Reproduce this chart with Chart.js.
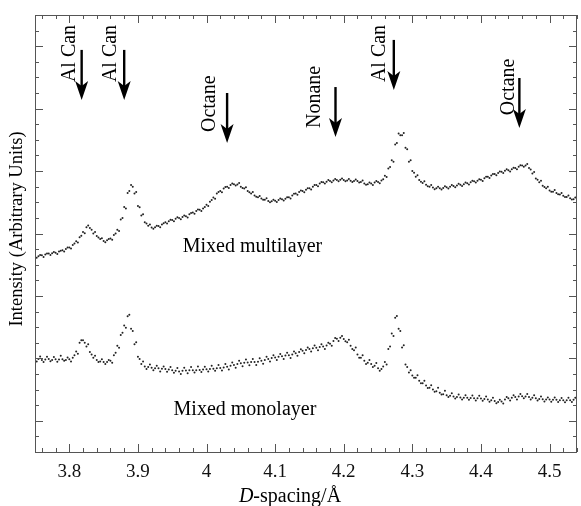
<!DOCTYPE html>
<html>
<head>
<meta charset="utf-8">
<script src="https://cdn.jsdelivr.net/npm/chart.js"></script>
<style>
  html, body { margin: 0; padding: 0; background: #fff; }
  canvas { display: block; }
</style>
</head>
<body>
<canvas id="xrd" width="581" height="506" style="width:581px;height:506px"></canvas>
<script>
// D-spacing grid of the scans (Å)
const dStart = 3.75;
const dStep = 0.005;

// mixed multilayer, two passes
const multiA = [
  6.27,6.27,6.30,6.33,6.36,6.37,6.38,6.42,6.46,6.50,
  6.55,6.63,6.75,6.88,7.05,7.20,7.18,7.00,6.92,6.82,
  6.76,6.78,6.84,6.95,7.12,7.45,7.85,8.30,8.55,8.28,
  7.88,7.58,7.36,7.25,7.19,7.20,7.24,7.29,7.36,7.39,
  7.43,7.47,7.50,7.53,7.55,7.62,7.67,7.72,7.76,7.80,
  7.92,8.02,8.15,8.28,8.36,8.44,8.50,8.55,8.58,8.57,
  8.50,8.44,8.36,8.28,8.22,8.16,8.12,8.08,8.04,8.03,
  8.05,8.07,8.10,8.11,8.16,8.22,8.28,8.33,8.36,8.40,
  8.45,8.50,8.55,8.60,8.64,8.66,8.68,8.70,8.71,8.72,
  8.71,8.70,8.69,8.68,8.68,8.65,8.60,8.58,8.60,8.63,
  8.65,8.70,8.85,9.08,9.35,9.85,10.20,10.15,9.75,9.30,
  9.00,8.82,8.71,8.62,8.56,8.50,8.47,8.45,8.45,8.46,
  8.48,8.50,8.52,8.54,8.56,8.58,8.61,8.64,8.67,8.69,
  8.72,8.77,8.82,8.86,8.91,8.94,8.98,9.01,9.03,9.06,
  9.10,9.14,9.18,9.18,9.10,8.92,8.76,8.64,8.53,8.45,
  8.38,8.34,8.30,8.25,8.21,8.17,8.13,8.10,8.07
];
const multiB = [
  6.22,6.31,6.25,6.36,6.31,6.41,6.34,6.45,6.42,6.55,
  6.52,6.68,6.71,6.93,7.01,7.26,7.12,7.05,6.87,6.85,
  6.72,6.82,6.80,7.00,7.08,7.50,7.80,8.36,8.50,8.33,
  7.84,7.62,7.32,7.29,7.15,7.25,7.20,7.33,7.32,7.44,
  7.39,7.52,7.46,7.58,7.51,7.66,7.63,7.77,7.72,7.85,
  7.88,8.07,8.11,8.33,8.32,8.49,8.46,8.60,8.54,8.62,
  8.46,8.48,8.32,8.33,8.18,8.20,8.08,8.13,8.00,8.08,
  8.01,8.12,8.06,8.16,8.12,8.27,8.24,8.38,8.32,8.45,
  8.41,8.55,8.51,8.65,8.60,8.71,8.64,8.75,8.67,8.76,
  8.67,8.75,8.65,8.73,8.63,8.70,8.56,8.63,8.55,8.68,
  8.61,8.74,8.81,9.13,9.30,9.90,10.15,10.22,9.70,9.35,
  8.95,8.87,8.66,8.67,8.51,8.55,8.42,8.50,8.41,8.51,
  8.44,8.55,8.48,8.59,8.52,8.63,8.57,8.69,8.63,8.74,
  8.68,8.82,8.78,8.91,8.87,8.99,8.94,9.06,8.99,9.11,
  9.06,9.19,9.14,9.23,9.05,8.97,8.72,8.69,8.49,8.50,
  8.34,8.39,8.26,8.30,8.17,8.22,8.09,8.15,8.03
];

// mixed monolayer, two passes
const monoA = [
  2.97,2.98,2.95,2.96,2.98,2.95,2.97,2.96,2.97,2.95,
  2.97,3.02,3.22,3.50,3.58,3.38,3.20,3.02,2.95,2.90,
  2.88,2.88,2.92,3.10,3.40,3.75,4.05,4.35,3.95,3.45,
  3.05,2.82,2.74,2.72,2.70,2.68,2.68,2.67,2.66,2.64,
  2.62,2.60,2.58,2.60,2.61,2.62,2.62,2.62,2.63,2.64,
  2.65,2.66,2.67,2.68,2.69,2.71,2.73,2.76,2.79,2.82,
  2.84,2.86,2.87,2.88,2.88,2.89,2.92,2.95,2.98,3.01,
  3.03,3.05,3.07,3.09,3.10,3.12,3.16,3.20,3.24,3.27,
  3.30,3.32,3.34,3.36,3.38,3.41,3.47,3.56,3.63,3.66,
  3.62,3.52,3.40,3.26,3.12,3.02,2.92,2.86,2.82,2.76,
  2.68,2.66,2.88,3.30,3.80,4.30,3.95,3.35,2.80,2.55,
  2.45,2.38,2.28,2.20,2.13,2.06,2.00,1.95,1.90,1.85,
  1.82,1.80,1.78,1.76,1.75,1.74,1.74,1.73,1.72,1.72,
  1.71,1.70,1.68,1.66,1.63,1.60,1.62,1.68,1.72,1.74,
  1.76,1.78,1.79,1.78,1.76,1.74,1.72,1.70,1.69,1.68,
  1.68,1.67,1.67,1.66,1.66,1.66,1.66,1.67,1.66
];
const monoB = [
  2.90,3.06,2.88,3.05,2.91,3.04,2.89,3.08,2.92,3.03,
  2.90,3.10,3.15,3.58,3.50,3.45,3.12,3.08,2.88,2.97,
  2.82,2.95,2.86,3.18,3.34,3.82,3.98,4.40,3.88,3.52,
  2.98,2.90,2.66,2.80,2.62,2.76,2.58,2.74,2.57,2.72,
  2.54,2.69,2.50,2.70,2.52,2.72,2.55,2.74,2.56,2.73,
  2.58,2.76,2.60,2.79,2.61,2.82,2.64,2.87,2.70,2.92,
  2.75,2.96,2.78,2.98,2.79,3.00,2.83,3.05,2.90,3.10,
  2.95,3.14,2.98,3.18,3.01,3.22,3.08,3.29,3.16,3.35,
  3.22,3.41,3.26,3.45,3.30,3.50,3.40,3.65,3.56,3.72,
  3.55,3.60,3.30,3.35,3.02,3.10,2.82,2.95,2.72,2.85,
  2.60,2.74,2.80,3.38,3.72,4.36,3.88,3.42,2.72,2.62,
  2.38,2.46,2.20,2.28,2.05,2.14,1.93,2.06,1.84,1.96,
  1.76,1.88,1.71,1.84,1.68,1.82,1.67,1.81,1.65,1.80,
  1.64,1.78,1.61,1.74,1.56,1.67,1.55,1.76,1.65,1.82,
  1.68,1.86,1.72,1.86,1.68,1.82,1.65,1.78,1.62,1.75,
  1.61,1.75,1.60,1.73,1.59,1.74,1.60,1.74,1.59
];

// ticks
const xMajor = [3.8, 3.9, 4.0, 4.1, 4.2, 4.3, 4.4, 4.5];
const xMinor = [3.76,3.78,3.82,3.84,3.86,3.88,3.92,3.94,3.96,3.98,4.02,4.04,4.06,4.08,
  4.12,4.14,4.16,4.18,4.22,4.24,4.26,4.28,4.32,4.34,4.36,4.38,4.42,4.44,4.46,4.48,4.52,4.54];
const yMajor = [1, 3, 5, 7, 9, 11, 13];
const yMinor = [0.5,1.5,2,2.5,3.5,4,4.5,5.5,6,6.5,7.5,8,8.5,9.5,10,10.5,11.5,12,12.5,13.5];

// arrow annotations: label, D the arrow points at, arrow tip (intensity)
const noteLabels = ['Al Can', 'Al Can', 'Octane', 'Nonane', 'Al Can', 'Octane'];
const noteD = [3.818, 3.880, 4.030, 4.188, 4.273, 4.456];
const noteTip = [11.28, 11.28, 9.90, 10.09, 11.60, 10.38];
// where the rotated text sits (D of text column, intensity where the text starts)
const noteTextD = [3.7986, 3.8587, 4.0036, 4.157, 4.2507, 4.4384];
const noteTextY = [11.85, 11.85, 10.25, 10.38, 11.85, 10.79];

const seriesLabels = [
  { text: 'Mixed multilayer', d: 4.067, y: 6.56 },
  { text: 'Mixed monolayer', d: 4.056, y: 1.34 }
];

const SERIF = '"Liberation Serif", "DejaVu Serif", serif';

function pass(vals, shift) {
  return {
    data: vals.map((v, i) => ({ x: dStart + i * dStep + shift, y: v })),
    pointRadius: 1.0,
    pointBorderWidth: 0,
    pointBackgroundColor: '#222',
    showLine: false
  };
}

const decor = {
  id: 'decor',
  afterDraw(chart) {
    const { ctx, chartArea: a, scales: { x, y } } = chart;
    ctx.save();

    // frame
    ctx.strokeStyle = '#555';
    ctx.lineWidth = 1;
    ctx.strokeRect(Math.round(a.left) + 0.5, Math.round(a.top) + 0.5,
      Math.round(a.right - a.left) - 1, Math.round(a.bottom - a.top));

    // inward ticks on all four sides
    ctx.beginPath();
    const xt = (v, len) => {
      const px = Math.round(x.getPixelForValue(v)) + 0.5;
      ctx.moveTo(px, a.bottom); ctx.lineTo(px, a.bottom - len);
      ctx.moveTo(px, a.top); ctx.lineTo(px, a.top + len);
    };
    const yt = (v, len) => {
      const py = Math.round(y.getPixelForValue(v)) + 0.5;
      ctx.moveTo(a.left, py); ctx.lineTo(a.left + len, py);
      ctx.moveTo(a.right, py); ctx.lineTo(a.right - len, py);
    };
    xMajor.forEach(v => xt(v, 8));
    xMinor.forEach(v => xt(v, 4));
    yMajor.forEach(v => yt(v, 8));
    yMinor.forEach(v => yt(v, 4));
    ctx.stroke();

    // arrows + rotated labels
    ctx.fillStyle = '#000';
    ctx.strokeStyle = '#000';
    noteLabels.forEach((label, i) => {
      const ax = x.getPixelForValue(noteD[i]);
      const tip = y.getPixelForValue(noteTip[i]);
      ctx.lineWidth = 2.4;
      ctx.beginPath();
      ctx.moveTo(ax, tip - 50);
      ctx.lineTo(ax, tip - 12);
      ctx.stroke();
      ctx.beginPath();
      ctx.moveTo(ax, tip);
      ctx.lineTo(ax - 6.5, tip - 19);
      ctx.lineTo(ax, tip - 14);
      ctx.lineTo(ax + 6.5, tip - 19);
      ctx.closePath();
      ctx.fill();

      ctx.save();
      ctx.translate(x.getPixelForValue(noteTextD[i]), y.getPixelForValue(noteTextY[i]));
      ctx.rotate(-Math.PI / 2);
      ctx.font = '20px ' + SERIF;
      ctx.textAlign = 'left';
      ctx.textBaseline = 'middle';
      ctx.fillText(label, 0, 1);
      ctx.restore();
    });

    // series names
    ctx.font = '20px ' + SERIF;
    ctx.textAlign = 'center';
    ctx.textBaseline = 'middle';
    seriesLabels.forEach(s => {
      ctx.fillText(s.text, x.getPixelForValue(s.d), y.getPixelForValue(s.y));
    });

    // x title: italic D + rest
    const part1 = 'D', part2 = '-spacing/Å';
    ctx.textAlign = 'left';
    ctx.font = 'italic 20px ' + SERIF;
    const w1 = ctx.measureText(part1).width;
    ctx.font = '20px ' + SERIF;
    const w2 = ctx.measureText(part2).width;
    const sx = 290 - (w1 + w2) / 2;
    ctx.font = 'italic 20px ' + SERIF;
    ctx.fillText(part1, sx, 497);
    ctx.font = '20px ' + SERIF;
    ctx.fillText(part2, sx + w1, 497);

    // y title
    ctx.save();
    ctx.translate(17, 229);
    ctx.rotate(-Math.PI / 2);
    ctx.textAlign = 'center';
    ctx.font = '18.5px ' + SERIF;
    ctx.fillText('Intensity (Arbitrary Units)', 0, 0);
    ctx.restore();

    ctx.restore();
  }
};

new Chart(document.getElementById('xrd'), {
  type: 'scatter',
  data: {
    datasets: [pass(multiA, 0), pass(multiB, dStep / 2), pass(monoA, 0), pass(monoB, dStep / 2)]
  },
  options: {
    responsive: false,
    animation: false,
    devicePixelRatio: 1,
    layout: { padding: { left: 35, top: 15, right: -2, bottom: 0 } },
    plugins: { legend: { display: false }, tooltip: { enabled: false } },
    scales: {
      x: {
        type: 'linear',
        min: 3.75,
        max: 4.54,
        afterBuildTicks: s => {
          s.ticks = xMajor.concat(xMinor).sort((p, q) => p - q).map(v => ({ value: v }));
        },
        afterFit: s => { s.height = 54; },
        grid: { display: false, drawTicks: true, tickLength: 9 },
        border: { display: false },
        ticks: {
          autoSkip: false,
          maxRotation: 0,
          padding: 0,
          color: '#111',
          font: { family: SERIF, size: 19 },
          callback: v => xMajor.some(m => Math.abs(m - v) < 1e-6) ? String(+v.toFixed(1)) : ''
        }
      },
      y: {
        type: 'linear',
        min: 0,
        max: 14,
        afterFit: s => { s.width = 0; },
        grid: { display: false },
        border: { display: false },
        ticks: { display: false }
      }
    }
  },
  plugins: [decor]
});
</script>
</body>
</html>
